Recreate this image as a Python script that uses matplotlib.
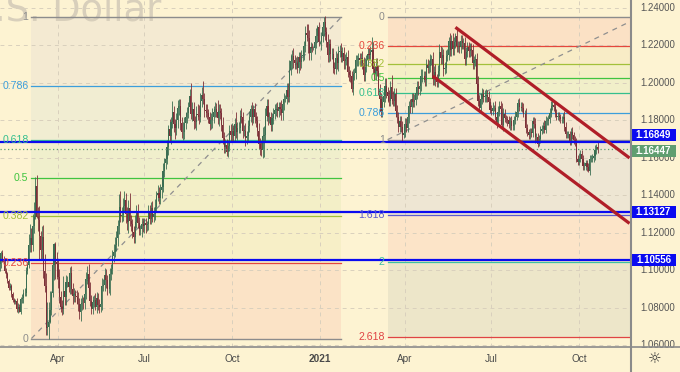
import numpy as np
import matplotlib
matplotlib.use("Agg")
import matplotlib.pyplot as plt
from matplotlib.patches import Rectangle
from matplotlib.lines import Line2D

plt.rcParams['font.family'] = ['Liberation Sans', 'DejaVu Sans']

# ---------------- data ----------------
START_DATE = '2020-01-30'
FIRST_OPEN = 11010  # 1e-4 units

close_pips = [
    # 2020-01
    11032, 11093,
    # 2020-02
    11060, 11044, 10998, 10980, 10944, 10905, 10915, 10872, 10840, 10830,
    10836, 10791, 10806, 10780, 10848, 10853, 10880, 10881, 10994, 11026,
    # 2020-03
    11136, 11170, 11135, 11238, 11284, 11450, 11285, 11268, 11184, 11106,
    11180, 10995, 10915, 10690, 10695, 10722, 10790, 10880, 11030, 11141,
    11045, 11031,
    # 2020-04
    10965, 10856, 10805, 10795, 10890, 10856, 10935, 10937, 10913, 10985,
    10902, 10862, 10875, 10862, 10855, 10822, 10780, 10820, 10826, 10823,
    10875, 10955,
    # 2020-05
    10982, 10907, 10838, 10795, 10830, 10840, 10806, 10850, 10817, 10805,
    10820, 10918, 10922, 10975, 10948, 10900, 10900, 10980, 11005, 11077,
    11100,
    # 2020-06
    11135, 11170, 11235, 11335, 11290, 11295, 11343, 11373, 11300, 11257,
    11330, 11265, 11245, 11205, 11177, 11257, 11310, 11253, 11220, 11220,
    11245, 11234,
    # 2020-07
    11250, 11240, 11245, 11310, 11275, 11330, 11285, 11300, 11340, 11400,
    11410, 11385, 11428, 11445, 11530, 11570, 11595, 11655, 11755, 11715,
    11790, 11845, 11778,
    # 2020-08
    11760, 11800, 11865, 11875, 11785, 11735, 11740, 11785, 11815, 11840,
    11870, 11930, 11835, 11860, 11795, 11790, 11835, 11830, 11820, 11903,
    11935,
    # 2020-09
    11915, 11855, 11850, 11837, 11815, 11780, 11800, 11815, 11845, 11860,
    11845, 11812, 11847, 11838, 11775, 11705, 11658, 11670, 11632, 11665,
    11745, 11720,
    # 2020-10
    11745, 11715, 11782, 11735, 11760, 11760, 11825, 11815, 11745, 11745,
    11705, 11715, 11770, 11820, 11860, 11815, 11860, 11815, 11795, 11745,
    11675, 11645,
    # 2020-11
    11640, 11715, 11720, 11825, 11875, 11815, 11815, 11775, 11810, 11835,
    11855, 11860, 11850, 11870, 11860, 11840, 11885, 11915, 11915, 11960,
    11925,
    # 2020-12
    12070, 12115, 12145, 12120, 12105, 12105, 12080, 12135, 12110, 12145,
    12150, 12195, 12265, 12255, 12240, 12160, 12190, 12185, 12185, 12215,
    12250, 12295, 12215,
    # 2021-01
    12215, 12250, 12297, 12325, 12270, 12220, 12150, 12205, 12155, 12155,
    12080, 12075, 12130, 12105, 12165, 12170, 12140, 12160, 12115, 12125,
    12135,
    # 2021-02
    12060, 12040, 12035, 11965, 12045, 12050, 12120, 12120, 12130, 12120,
    12130, 12105, 12040, 12090, 12120, 12155, 12150, 12165, 12175, 12075,
    # 2021-03
    12045, 12090, 12065, 11965, 11915, 11845, 11900, 11930, 11985, 11950,
    11930, 11905, 11980, 11915, 11905, 11940, 11850, 11815, 11765, 11795,
    11765, 11720, 11730,
    # 2021-04
    11780, 11760, 11815, 11875, 11870, 11915, 11900, 11910, 11945, 11980,
    11965, 11985, 12035, 12035, 12035, 12015, 12095, 12080, 12090, 12125,
    12125, 12020,
    # 2021-05
    12060, 12015, 12005, 12065, 12165, 12130, 12150, 12075, 12080, 12145,
    12150, 12225, 12175, 12225, 12180, 12215, 12250, 12195, 12195, 12190,
    12225,
    # 2021-06
    12210, 12210, 12125, 12165, 12190, 12170, 12180, 12175, 12105, 12120,
    12125, 11995, 11905, 11865, 11915, 11940, 11925, 11930, 11935, 11925,
    11895, 11857,
    # 2021-07
    11850, 11865, 11865, 11820, 11790, 11845, 11875, 11860, 11775, 11835,
    11810, 11805, 11800, 11780, 11795, 11770, 11770, 11800, 11820, 11845,
    11890, 11870,
    # 2021-08
    11870, 11865, 11835, 11835, 11760, 11735, 11720, 11740, 11730, 11795,
    11780, 11710, 11710, 11675, 11700, 11745, 11755, 11770, 11750, 11795,
    11795, 11805,
    # 2021-09
    11840, 11875, 11880, 11870, 11840, 11820, 11825, 11815, 11805, 11805,
    11820, 11765, 11725, 11725, 11725, 11690, 11740, 11720, 11695, 11685,
    11595, 11580,
    # 2021-10
    11595, 11620, 11595, 11555, 11555, 11570, 11550, 11530, 11595, 11595,
    11600, 11610, 11640, 11655, 11645,
]

upper_wick_pips = [
    # 2020-01
    20, 12,
    # 2020-02
    15, 18, 20, 12, 10, 12, 15, 10, 14, 10,
    12, 15, 18, 12, 12, 20, 18, 22, 25, 20,
    # 2020-03
    60, 75, 55, 60, 80, 45, 60, 55, 77, 23,
    55, 60, 90, 70, 138, 108, 100, 11, 4, 6,
    10, 55,
    # 2020-04
    30, 40, 35, 35, 80, 45, 40, 30, 40, 35,
    40, 30, 30, 20, 35, 30, 30, 30, 40, 30,
    30, 35,
    # 2020-05
    40, 50, 30, 30, 35, 30, 40, 35, 30, 30,
    30, 40, 30, 35, 30, 25, 20, 30, 30, 30,
    40,
    # 2020-06
    40, 40, 35, 70, 90, 40, 40, 49, 40, 40,
    45, 80, 30, 30, 30, 40, 40, 45, 30, 20,
    35, 35,
    # 2020-07
    30, 30, 20, 40, 40, 35, 40, 35, 40, 25,
    45, 35, 30, 35, 40, 30, 35, 40, 20, 50,
    30, 60, 30,
    # 2020-08
    30, 40, 45, 40, 40, 30, 50, 30, 30, 30,
    30, 35, 70, 40, 40, 30, 40, 50, 50, 45,
    45,
    # 2020-09
    76, 30, 30, 35, 25, 30, 40, 50, 30, 35,
    30, 65, 40, 40, 30, 40, 30, 30, 30, 30,
    30, 35,
    # 2020-10
    40, 30, 30, 60, 30, 30, 30, 40, 30, 30,
    40, 30, 30, 30, 20, 40, 20, 30, 30, 30,
    40, 30,
    # 2020-11
    40, 50, 50, 40, 40, 40, 30, 30, 30, 30,
    30, 30, 35, 30, 30, 50, 30, 30, 20, 40,
    40,
    # 2020-12
    50, 40, 30, 40, 30, 30, 40, 30, 30, 30,
    30, 30, 40, 50, 60, 40, 30, 20, 10, 30,
    40, 15, 30,
    # 2021-01
    10, 20, 15, 24, 30, 30, 40, 30, 30, 30,
    30, 30, 40, 30, 30, 30, 40, 30, 30, 30,
    30,
    # 2021-02
    40, 30, 30, 30, 30, 30, 30, 30, 30, 30,
    30, 40, 30, 40, 30, 30, 30, 30, 68, 40,
    # 2021-03
    40, 40, 40, 30, 30, 30, 30, 30, 40, 40,
    30, 30, 30, 60, 40, 30, 30, 30, 30, 30,
    30, 30, 30,
    # 2021-04
    30, 30, 30, 30, 40, 30, 30, 30, 30, 30,
    30, 30, 40, 40, 30, 30, 30, 30, 30, 30,
    25, 40,
    # 2021-05
    30, 40, 30, 30, 40, 30, 40, 30, 30, 30,
    30, 20, 40, 30, 40, 30, 16, 40, 30, 30,
    30,
    # 2021-06
    30, 30, 35, 25, 30, 25, 30, 30, 30, 25,
    30, 35, 40, 30, 30, 30, 25, 30, 30, 25,
    30, 25,
    # 2021-07
    25, 30, 15, 40, 25, 30, 30, 30, 30, 30,
    25, 20, 20, 25, 25, 30, 20, 25, 30, 35,
    25, 30,
    # 2021-08
    25, 30, 25, 20, 30, 20, 20, 20, 20, 25,
    20, 30, 20, 20, 20, 25, 20, 20, 30, 30,
    20, 25,
    # 2021-09
    25, 30, 30, 20, 20, 20, 20, 20, 20, 20,
    20, 30, 25, 20, 20, 20, 20, 25, 20, 20,
    20, 20,
    # 2021-10
    30, 20, 20, 20, 20, 20, 20, 20, 20, 20,
    20, 20, 30, 20, 30,
]

lower_wick_pips = [
    # 2020-01
    15, 20,
    # 2020-02
    18, 12, 15, 20, 12, 10, 10, 12, 10, 12,
    10, 12, 18, 2, 15, 22, 25, 18, 20, 15,
    # 2020-03
    16, 36, 40, 30, 40, 10, 5, 60, 129, 52,
    51, 35, 30, 35, 36, 59, 3, 30, 20, 80,
    90, 80,
    # 2020-04
    60, 30, 30, 35, 30, 40, 40, 25, 30, 40,
    30, 40, 30, 30, 35, 40, 40, 53, 30, 30,
    30, 30,
    # 2020-05
    30, 20, 30, 30, 30, 25, 20, 35, 30, 35,
    30, 30, 30, 30, 40, 30, 20, 30, 30, 25,
    35,
    # 2020-06
    30, 30, 40, 40, 30, 30, 30, 30, 50, 40,
    60, 30, 35, 35, 30, 30, 30, 30, 30, 30,
    40, 30,
    # 2020-07
    35, 40, 30, 30, 30, 30, 30, 30, 30, 30,
    30, 30, 30, 40, 30, 35, 30, 30, 40, 30,
    40, 30, 40,
    # 2020-08
    60, 40, 40, 35, 35, 30, 40, 40, 30, 30,
    30, 30, 30, 40, 40, 30, 40, 30, 40, 30,
    30,
    # 2020-09
    30, 40, 30, 30, 30, 30, 25, 40, 30, 30,
    30, 30, 40, 30, 30, 30, 30, 30, 20, 30,
    30, 30,
    # 2020-10
    30, 30, 30, 30, 40, 30, 30, 30, 40, 30,
    40, 30, 30, 30, 30, 40, 30, 30, 30, 30,
    30, 30,
    # 2020-11
    30, 40, 112, 30, 30, 40, 30, 30, 30, 30,
    30, 30, 30, 30, 30, 40, 40, 30, 20, 30,
    30,
    # 2020-12
    30, 30, 40, 40, 30, 30, 30, 30, 40, 30,
    30, 30, 30, 30, 80, 40, 40, 20, 10, 30,
    30, 30, 20,
    # 2021-01
    10, 40, 30, 50, 40, 30, 40, 40, 40, 30,
    30, 30, 30, 30, 40, 30, 30, 30, 40, 40,
    30,
    # 2021-02
    30, 30, 30, 13, 30, 30, 30, 30, 30, 30,
    30, 30, 30, 30, 30, 30, 30, 30, 30, 30,
    # 2021-03
    30, 30, 30, 30, 30, 25, 30, 30, 30, 30,
    30, 30, 30, 30, 30, 30, 30, 30, 30, 30,
    30, 30, 16,
    # 2021-04
    20, 20, 20, 30, 30, 30, 30, 30, 30, 30,
    30, 30, 30, 30, 30, 30, 30, 30, 30, 30,
    30, 30,
    # 2021-05
    30, 30, 30, 30, 30, 30, 30, 40, 30, 30,
    30, 30, 30, 30, 30, 30, 30, 30, 30, 30,
    30,
    # 2021-06
    30, 30, 30, 30, 30, 30, 30, 30, 30, 30,
    30, 30, 30, 20, 25, 30, 30, 30, 30, 30,
    30, 20,
    # 2021-07
    20, 20, 15, 20, 30, 20, 20, 20, 20, 30,
    20, 20, 30, 20, 30, 20, 20, 20, 20, 20,
    30, 20,
    # 2021-08
    20, 20, 20, 20, 30, 20, 20, 20, 20, 20,
    20, 30, 20, 20, 11, 20, 20, 25, 20, 20,
    20, 20,
    # 2021-09
    20, 20, 20, 20, 20, 20, 20, 20, 20, 20,
    20, 20, 20, 20, 20, 20, 20, 20, 20, 20,
    20, 20,
    # 2021-10
    20, 20, 20, 20, 20, 20, 20, 6, 20, 20,
    20, 20, 20, 20, 20,
]

tick_dates = ['2020-04-01', '2020-07-01', '2020-10-01', '2021-01-01',
              '2021-04-01', '2021-07-01', '2021-10-01']
tick_labels = ['Apr', 'Jul', 'Oct', '2021', 'Apr', 'Jul', 'Oct']
price_ticks = [1.06, 1.08, 1.10, 1.12, 1.14, 1.16, 1.18, 1.20, 1.22, 1.24]

left_fib_low, left_fib_high = 1.0636, 1.2349
left_fib_dates = ['2020-03-04', '2021-01-25']
left_fib_levels = [0, 0.236, 0.382, 0.5, 0.618, 0.786, 1]
left_fib_labels = ['0', '0.236', '0.382', '0.5', '0.618', '0.786', '1']

right_fib_top, right_fib_bottom = 1.2349, 1.1697
right_fib_dates = ['2021-03-15', '2021-12-03']
right_fib_levels = [0, 0.236, 0.382, 0.5, 0.618, 0.786, 1, 1.618, 2, 2.618]
right_fib_labels = ['0', '0.236', '0.382', '0.5', '0.618', '0.786', '1',
                    '1.618', '2', '2.618']

channel_upper_dates = ['2021-05-25', '2021-11-24']
channel_upper_prices = [1.2296, 1.1599]
channel_lower_dates = ['2021-04-30', '2021-11-24']
channel_lower_prices = [1.2036, 1.1250]

level_prices = [1.16849, 1.13127, 1.10556]
last_price = 1.16447

# ---------------- styles ----------------
BG = '#fdf3d2'
UP = '#3b6e52'
DOWN = '#7c3038'
GRID = '#d9d0bd'
LEVEL_COLORS = {0: '#8c8c8c', 0.236: '#e5473d', 0.382: '#a3c03a', 0.5: '#3fc43f',
                0.618: '#34bf8e', 0.786: '#3c9edb', 1: '#8c8c8c', 1.618: '#5b5bd0',
                2: '#3cc2a2', 2.618: '#e04444'}
LEFT_BANDS = ['#fbe3c6', '#f7efc7', '#f3efc7', '#f0efcc', '#f1edd2', '#f4ead2']
RIGHT_BANDS = ['#fbe1c5', '#f8ecc6', '#f4efc6', '#f1efc9', '#f8ead0', '#f6e8d3',
               '#eee6d3', '#fce4c8', '#ede6c9']

W, H = 680, 372
PLOT_W, PLOT_H, BOTTOM_H = 631, 347, 25


def xi(d):
    return int(np.busday_count(START_DATE, d))


fig = plt.figure(figsize=(W / 100, H / 100), dpi=100, facecolor=BG)
ax = fig.add_axes([0, BOTTOM_H / H, PLOT_W / W, PLOT_H / H], facecolor=BG)
ax.set_xlim(0.36, 475.1)
ax.set_ylim(1.05909, 1.24416)
for s in ax.spines.values():
    s.set_visible(False)

px_y = (1.24416 - 1.05909) / PLOT_H  # price per pixel

# grid
ax.set_yticks(price_ticks)
tick_idx = [xi(d) for d in tick_dates]
ax.set_xticks(tick_idx)
ax.set_xticklabels(tick_labels)
for lab in ax.get_xticklabels():
    if lab.get_text() == '2021':
        lab.set_fontweight('bold')
ax.tick_params(axis='y', left=False, labelleft=False)
ax.tick_params(axis='x', length=0, pad=5, labelsize=7.2, labelcolor='#4a4a4a')
ax.grid(True, color=GRID, lw=0.7, ls=(0, (4, 4)), zorder=0.5)
ax.set_axisbelow(True)

# watermark
ax.text(161 / PLOT_W, 1 - 21 / PLOT_H, 'Euro / U.S. Dollar', transform=ax.transAxes,
        ha='right', va='baseline', fontsize=26.5, color='#d8cfbb',
        family=['DejaVu Sans'], zorder=0.6, clip_on=False)

# left fib
lx0, lx1 = xi(left_fib_dates[0]), xi(left_fib_dates[1])
lp = [left_fib_low + l * (left_fib_high - left_fib_low) for l in left_fib_levels]
for i in range(len(lp) - 1):
    ax.fill_between([lx0, lx1], lp[i], lp[i + 1], color=LEFT_BANDS[i], lw=0, zorder=0.2)
for l, p, lab in zip(left_fib_levels, lp, left_fib_labels):
    c = LEVEL_COLORS[l]
    ax.plot([lx0, lx1], [p, p], color=c, lw=1.0 if l in (0, 1) else 0.9, zorder=1)
    ax.annotate(lab, (lx0, p), xytext=(-3, 0), textcoords='offset pixels',
                ha='right', va='center', fontsize=7.6, color=c, zorder=5)
ax.plot([lx0, lx1], [left_fib_low, left_fib_high], color='#8f8f8f', lw=0.9,
        ls=(0, (4, 4)), zorder=1.5)

# right fib
rx0, rx1 = xi(right_fib_dates[0]), xi(right_fib_dates[1])
xr_end = ax.get_xlim()[1]
rp = [right_fib_top + l * (right_fib_bottom - right_fib_top) for l in right_fib_levels]
for i in range(len(rp) - 1):
    ax.fill_between([rx0, xr_end], rp[i], rp[i + 1], color=RIGHT_BANDS[i], lw=0, zorder=0.2)
for l, p, lab in zip(right_fib_levels, rp, right_fib_labels):
    c = LEVEL_COLORS[l]
    ax.plot([rx0, xr_end], [p, p], color=c, lw=1.0 if l in (0, 1) else 0.9, zorder=1)
    ax.annotate(lab, (rx0, p), xytext=(-3, 0), textcoords='offset pixels',
                ha='right', va='center', fontsize=7.6, color=c, zorder=5)
ax.plot([rx0, rx1], [right_fib_bottom, right_fib_top], color='#8f8f8f', lw=0.9,
        ls=(0, (4, 4)), zorder=1.5)

# candles
n = len(close_pips)
x = np.arange(n)
c = np.array(close_pips) / 1e4
o = np.r_[FIRST_OPEN / 1e4, c[:-1]]
hi = np.maximum(o, c) + np.array(upper_wick_pips[:n]) / 1e4
lo = np.minimum(o, c) - np.array(lower_wick_pips[:n]) / 1e4
cols = np.where(c >= o, UP, DOWN)
ax.vlines(x, lo, hi, colors=cols, lw=0.6, zorder=3)
body = np.maximum(np.abs(c - o), 0.00012)
ax.bar(x, body, bottom=np.minimum(o, c), width=0.8, color=cols, lw=0, zorder=3)

# horizontal key levels
for p in level_prices:
    ax.axhline(p, color='#0a0af0', lw=1.6, zorder=4)
ax.axhline(last_price, color='#5f9e6e', lw=0.9, ls=(0, (1, 2)), zorder=4)

# channel
ax.plot([xi(d) for d in channel_upper_dates], channel_upper_prices, color='#b01e28',
        lw=2.3, zorder=4.5, solid_capstyle='butt')
ax.plot([xi(d) for d in channel_lower_dates], channel_lower_prices, color='#b01e28',
        lw=2.3, zorder=4.5, solid_capstyle='butt')

# right price axis
axr = fig.add_axes([PLOT_W / W, BOTTOM_H / H, (W - PLOT_W) / W, PLOT_H / H])
axr.set_xlim(0, W - PLOT_W)
axr.set_ylim(ax.get_ylim())
axr.axis('off')
for p in price_ticks:
    axr.text(9, p, f'{p:.5f}', ha='left', va='center', fontsize=6.9, color='#555555',
             clip_on=False, zorder=1)

box_h = 12 * px_y
label_items = [(level_prices[0], -6.5, '#0a0af0'), (level_prices[1], 0.5, '#0a0af0'),
               (level_prices[2], 0, '#0a0af0'), (last_price, 1.5, '#5f9e70')]
for p, off, col in label_items:
    yc = p - off * px_y
    axr.add_patch(Rectangle((0, yc - box_h / 2), 45, box_h, facecolor=col,
                            edgecolor='none', zorder=3, clip_on=False))
    axr.text(22.5, yc, f'{p:.5f}', ha='center', va='center', fontsize=7,
             fontweight='bold', color='white', zorder=4, clip_on=False)

# separators
fig.add_artist(Line2D([0, 1], [BOTTOM_H / H] * 2, transform=fig.transFigure,
                      color='#8a8a8a', lw=1.2))
fig.add_artist(Line2D([PLOT_W / W] * 2, [0, 1], transform=fig.transFigure,
                      color='#8a8a8a', lw=1.5))
fig.text((PLOT_W + 24) / W, 13 / H, '\u263c', ha='center', va='center',
         fontsize=11, color='#333333', family=['DejaVu Sans'])

fig.savefig('out.png', dpi=100, facecolor=BG)
